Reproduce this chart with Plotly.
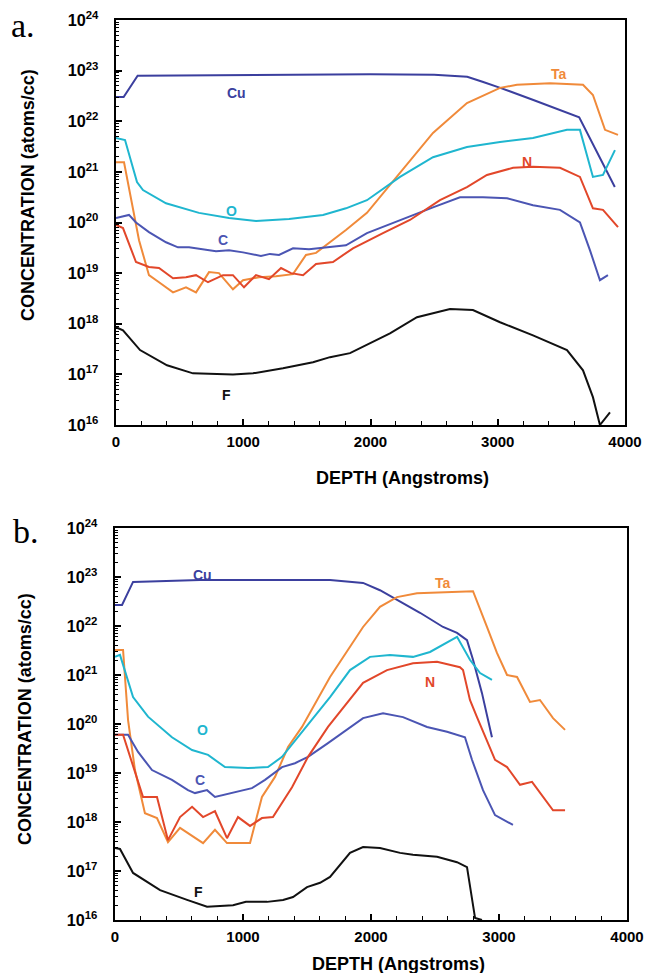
import plotly.graph_objects as go

# ---------------- panel a : depth (Angstroms) / log10 concentration ----------------
a_cu_depth = [0, 60, 170, 1000, 2000, 2500, 2760, 2880, 3020, 3280, 3640, 3920]
a_cu_log = [22.48, 22.48, 22.9, 22.92, 22.93, 22.92, 22.88, 22.78, 22.66, 22.42, 22.08, 20.7]

a_ta_depth = [0, 63, 181, 259, 338, 448, 550, 629, 731, 809, 919, 998, 1124, 1257, 1391,
              1493, 1572, 1650, 1807, 1972, 2232, 2491, 2758, 3018, 3151, 3411, 3670, 3748,
              3843, 3945]
a_ta_log = [21.19, 21.19, 19.65, 18.96, 18.82, 18.62, 18.72, 18.62, 19.02, 19.0, 18.68, 18.86,
            18.92, 18.94, 18.98, 19.36, 19.4, 19.55, 19.85, 20.19, 20.98, 21.77, 22.36, 22.66,
            22.72, 22.75, 22.72, 22.52, 21.83, 21.73]

a_o_depth = [0, 71, 165, 212, 393, 652, 888, 1100, 1360, 1627, 1807, 1972, 2232, 2491, 2758,
             3018, 3277, 3544, 3646, 3748, 3827, 3921]
a_o_log = [21.67, 21.63, 20.8, 20.64, 20.38, 20.19, 20.09, 20.03, 20.07, 20.15, 20.28, 20.44,
           20.9, 21.29, 21.49, 21.59, 21.67, 21.83, 21.83, 20.9, 20.94, 21.43]

a_c_depth = [0, 102, 157, 259, 393, 487, 574, 684, 786, 888, 998, 1139, 1210, 1281, 1391,
             1517, 1674, 1807, 1972, 2232, 2491, 2703, 2884, 3073, 3277, 3489, 3646, 3725,
             3803, 3866]
a_c_log = [20.09, 20.15, 20.0, 19.81, 19.61, 19.51, 19.51, 19.47, 19.43, 19.45, 19.41, 19.34,
           19.38, 19.36, 19.49, 19.47, 19.51, 19.55, 19.79, 20.05, 20.3, 20.5, 20.5, 20.48,
           20.34, 20.25, 20.0, 19.45, 18.86, 18.96]

a_n_depth = [0, 55, 157, 259, 338, 448, 550, 629, 723, 841, 919, 1006, 1100, 1202, 1297,
             1375, 1470, 1572, 1705, 1807, 1862, 2098, 2310, 2546, 2758, 2915, 3120, 3277,
             3489, 3646, 3748, 3827, 3945]
a_n_log = [19.95, 19.89, 19.22, 19.12, 19.1, 18.9, 18.92, 18.96, 18.82, 18.96, 18.96, 18.72,
           18.96, 18.88, 19.1, 19.0, 18.96, 19.18, 19.22, 19.4, 19.49, 19.79, 20.05, 20.44,
           20.7, 20.94, 21.08, 21.1, 21.08, 20.9, 20.28, 20.25, 19.91]

a_f_depth = [0, 55, 189, 401, 605, 919, 1077, 1312, 1548, 1682, 1839, 1972, 2153, 2365,
             2625, 2805, 3018, 3277, 3544, 3670, 3748, 3803, 3882]
a_f_log = [17.93, 17.87, 17.48, 17.18, 17.02, 17.0, 17.02, 17.12, 17.24, 17.34, 17.42, 17.58,
           17.81, 18.13, 18.29, 18.27, 18.03, 17.77, 17.48, 17.08, 16.55, 16.0, 16.25]

# ---------------- panel b ----------------
b_cu_depth = [0, 55, 141, 664, 1680, 1938, 2070, 2203, 2383, 2563, 2672, 2750, 2797, 2867, 2945]
b_cu_log = [22.43, 22.43, 22.9, 22.94, 22.94, 22.88, 22.73, 22.53, 22.27, 21.98, 21.86, 21.71,
            21.31, 20.63, 19.73]

b_ta_depth = [0, 63, 102, 156, 234, 328, 414, 508, 688, 781, 875, 1055, 1148, 1250, 1352,
              1461, 1680, 1938, 2070, 2203, 2359, 2563, 2797, 2906, 2984, 3063, 3141, 3242,
              3320, 3422, 3516]
b_ta_log = [21.51, 21.51, 20.08, 19.06, 18.18, 18.08, 17.59, 17.88, 17.57, 17.84, 17.57, 17.57,
            18.51, 18.92, 19.53, 19.94, 20.96, 21.98, 22.39, 22.59, 22.67, 22.69, 22.71, 21.98,
            21.45, 21.0, 20.96, 20.45, 20.49, 20.12, 19.88]

b_o_depth = [0, 39, 141, 258, 445, 602, 727, 859, 1039, 1195, 1305, 1430, 1539, 1680, 1836,
             1992, 2148, 2328, 2461, 2672, 2773, 2852, 2945]
b_o_log = [21.37, 21.41, 20.55, 20.15, 19.73, 19.47, 19.37, 19.12, 19.1, 19.12, 19.33, 19.73,
           20.08, 20.55, 21.1, 21.37, 21.41, 21.37, 21.47, 21.78, 21.31, 21.04, 20.9]

b_c_depth = [0, 102, 180, 289, 445, 570, 625, 719, 781, 914, 1070, 1172, 1305, 1406, 1508,
             1664, 1813, 1938, 2094, 2250, 2438, 2594, 2734, 2789, 2875, 2969, 3109]
b_c_log = [19.78, 19.78, 19.43, 19.06, 18.86, 18.65, 18.59, 18.65, 18.51, 18.59, 18.69, 18.86,
           19.12, 19.2, 19.33, 19.61, 19.88, 20.12, 20.22, 20.14, 19.94, 19.84, 19.73, 19.27,
           18.65, 18.14, 17.94]

b_n_depth = [0, 63, 219, 328, 414, 508, 602, 688, 781, 875, 961, 1055, 1148, 1234, 1383,
             1508, 1664, 1813, 1938, 2125, 2328, 2516, 2695, 2719, 2773, 2828, 2906, 2969,
             3063, 3164, 3258, 3422, 3516]
b_n_log = [19.78, 19.78, 18.51, 18.51, 17.63, 18.1, 18.31, 18.1, 18.22, 17.67, 18.1, 17.92,
           18.08, 18.1, 18.71, 19.33, 19.94, 20.43, 20.84, 21.1, 21.24, 21.27, 21.16, 21.1,
           20.49, 20.14, 19.67, 19.27, 19.12, 18.76, 18.82, 18.24, 18.24]

b_f_depth = [0, 39, 141, 352, 563, 719, 922, 1023, 1188, 1313, 1391, 1500, 1602, 1680, 1836,
             1938, 2070, 2227, 2328, 2516, 2672, 2750, 2813, 2867]
b_f_log = [17.47, 17.45, 16.96, 16.61, 16.41, 16.27, 16.3, 16.37, 16.37, 16.41, 16.47, 16.67,
           16.76, 16.88, 17.37, 17.49, 17.47, 17.37, 17.33, 17.29, 17.18, 17.08, 16.04, 16.0]

COL = {
    "Cu": "#3b3f9e",
    "Ta": "#f08a3a",
    "O": "#1fb6cf",
    "C": "#4b55b3",
    "N": "#e2472a",
    "F": "#111111",
}

panels = {
    "a": [("Cu", a_cu_depth, a_cu_log), ("Ta", a_ta_depth, a_ta_log), ("O", a_o_depth, a_o_log),
          ("C", a_c_depth, a_c_log), ("N", a_n_depth, a_n_log), ("F", a_f_depth, a_f_log)],
    "b": [("Cu", b_cu_depth, b_cu_log), ("Ta", b_ta_depth, b_ta_log), ("O", b_o_depth, b_o_log),
          ("C", b_c_depth, b_c_log), ("N", b_n_depth, b_n_log), ("F", b_f_depth, b_f_log)],
}

fig = go.Figure()
for key, ax in (("a", ""), ("b", "2")):
    for name, d, lg in panels[key]:
        fig.add_trace(
            go.Scatter(
                x=d,
                y=[10 ** v for v in lg],
                mode="lines",
                name=name,
                line=dict(color=COL[name], width=2),
                xaxis="x" + ax,
                yaxis="y" + ax,
                showlegend=False,
            )
        )

# the page body adds an 8px margin, so the figure starts 8px in from the corner
OFF = 8
W, H = 654 - OFF, 973 - OFF


def px(x):
    return (x - OFF) / W


def py(y):
    return 1 - (y - OFF) / H


tick_font = dict(family="Liberation Sans, Arial", size=15, color="black", weight="bold")


def xax(left, right, anchor):
    return dict(
        domain=[px(left), px(right)],
        anchor=anchor,
        range=[0, 4000],
        dtick=1000,
        ticks="inside",
        ticklen=6,
        tickwidth=1.5,
        tickcolor="black",
        minor=dict(dtick=200, ticks="inside", ticklen=4, tickcolor="black", tickwidth=1),
        showline=True,
        linecolor="black",
        linewidth=2,
        mirror=True,
        showgrid=False,
        zeroline=False,
        automargin=False,
        tickfont=tick_font,
        ticklabelstandoff=2,
    )


def yax(top, bottom, anchor):
    return dict(
        domain=[py(bottom), py(top)],
        anchor=anchor,
        type="log",
        range=[16, 24],
        dtick=1,
        exponentformat="power",
        ticks="inside",
        ticklen=6,
        tickwidth=1.5,
        tickcolor="black",
        minor=dict(dtick="D1", ticks="inside", ticklen=3, tickcolor="black", tickwidth=1),
        showline=True,
        linecolor="black",
        linewidth=2,
        mirror=True,
        showgrid=False,
        zeroline=False,
        automargin=False,
        tickfont=dict(family="Liberation Sans, Arial", size=13, color="black", weight="bold"),
        ticklabelstandoff=13,
    )


fig.update_layout(
    width=W,
    height=H,
    margin=dict(l=0, r=0, t=0, b=0, pad=0, autoexpand=False),
    paper_bgcolor="white",
    plot_bgcolor="white",
    xaxis=xax(116, 625, "y"),
    yaxis=yax(20, 425, "x"),
    xaxis2=xax(115, 627, "y2"),
    yaxis2=yax(528, 920, "x2"),
)

# curve labels (depth, log10 conc)
labels_a = [("Cu", 950, 22.55), ("Ta", 3480, 22.93), ("O", 910, 20.23), ("C", 840, 19.65),
            ("N", 3230, 21.19), ("F", 870, 16.59)]
labels_b = [("Cu", 680, 23.04), ("Ta", 2560, 22.88), ("O", 680, 19.88), ("C", 664, 18.86),
            ("N", 2460, 20.86), ("F", 656, 16.57)]
for labs, ax in ((labels_a, ""), (labels_b, "2")):
    for name, dx, ly in labs:
        fig.add_annotation(
            x=dx, y=ly, xref="x" + ax, yref="y" + ax, text=f"<b>{name}</b>",
            showarrow=False, font=dict(family="Liberation Sans, Arial", size=14, color=COL[name]),
        )

title_font = dict(family="Liberation Sans, Arial", size=18, color="black")
for yc, xc in ((195, 28), (719, 25)):
    fig.add_annotation(
        x=px(xc), y=py(yc), xref="paper", yref="paper", text="<b>CONCENTRATION (atoms/cc)</b>",
        textangle=-90, showarrow=False, font=title_font, xanchor="center", yanchor="middle",
    )
for xc, yc in ((403, 478), (398, 964)):
    fig.add_annotation(
        x=px(xc), y=py(yc), xref="paper", yref="paper", text="<b>DEPTH (Angstroms)</b>",
        showarrow=False, font=title_font, xanchor="center", yanchor="middle",
    )
for lab, xc, yc in (("a.", 23, 26), ("b.", 26, 531)):
    fig.add_annotation(
        x=px(xc), y=py(yc), xref="paper", yref="paper", text=lab, showarrow=False,
        font=dict(family="Liberation Serif, Times New Roman", size=34, color="black"),
        xanchor="center", yanchor="middle",
    )

fig.write_html("out.html")
